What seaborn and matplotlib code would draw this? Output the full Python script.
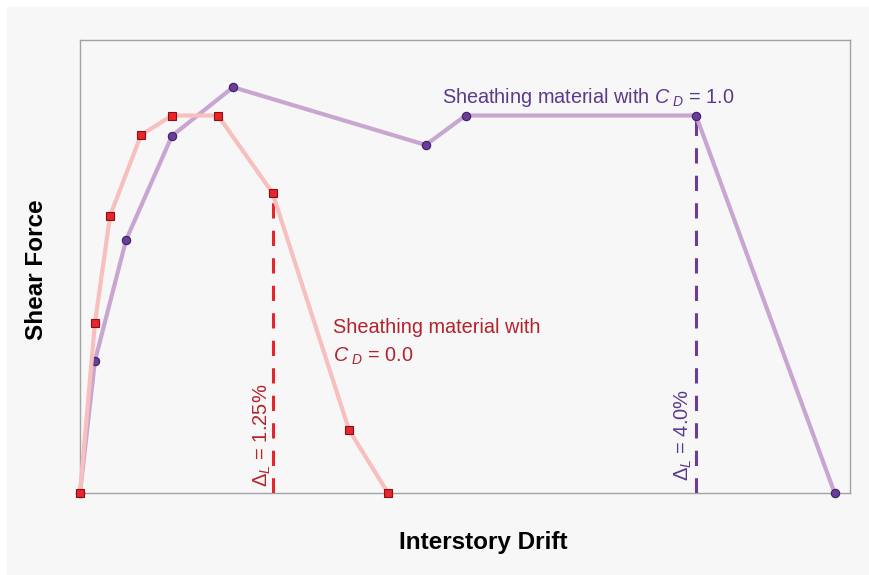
import matplotlib
matplotlib.use("Agg")
import matplotlib.pyplot as plt
from matplotlib.patches import Rectangle
import seaborn as sns
import pandas as pd

# ---- data (drift in %, shear force normalised to plateau = 1.0) ----
drift_cd0 = [0.0, 0.097, 0.195, 0.396, 0.597, 0.896, 1.25, 1.747, 2.0]
force_cd0 = [0.0, 0.450, 0.734, 0.948, 1.0, 1.0, 0.795, 0.167, 0.0]

drift_cd1 = [0.0, 0.097, 0.299, 0.597, 0.994, 2.245, 2.504, 4.0, 4.90]
force_cd1 = [0.0, 0.350, 0.670, 0.946, 1.075, 0.922, 1.0, 1.0, 0.0]

limit_cd0 = 1.25
limit_cd1 = 4.0
limit_force_cd0 = 0.795
limit_force_cd1 = 1.0

label_cd0_line1 = "Sheathing material with"
label_cd0_line2 = r"$C_{\ D}$ = 0.0"
label_cd1 = r"Sheathing material with $C_{\ D}$ = 1.0"
limit_label_cd0 = r"$\Delta_L$ = 1.25%"
limit_label_cd1 = r"$\Delta_L$ = 4.0%"
x_title = "Interstory Drift"
y_title = "Shear Force"

# ---- style ----
sns.set_theme(style="white")
plt.rcParams["font.family"] = ["Liberation Sans", "DejaVu Sans"]
plt.rcParams["mathtext.fontset"] = "custom"
plt.rcParams["mathtext.rm"] = "Liberation Sans"
plt.rcParams["mathtext.it"] = "Liberation Sans:italic"
plt.rcParams["mathtext.bf"] = "Liberation Sans:bold"

BG = "#f7f7f7"
RED_LINE = "#f8bfbf"
RED_MARK = "#e8252a"
RED_EDGE = "#8a1016"
RED_TEXT = "#b3232d"
RED_DASH = "#e3262c"
PUR_LINE = "#c9a6d2"
PUR_MARK = "#6a3d9a"
PUR_EDGE = "#3d1f66"
PUR_TEXT = "#5b3a8b"
PUR_DASH = "#6a3d9a"

fig = plt.figure(figsize=(8.7, 5.75), dpi=100)
fig.patch.set_facecolor(BG)
# thin white strips along top and left edges
fig.patches.append(Rectangle((0, 1 - 7 / 575), 1, 7 / 575, transform=fig.transFigure,
                             facecolor="white", edgecolor="none", zorder=-10))
fig.patches.append(Rectangle((0, 0), 7 / 870, 1, transform=fig.transFigure,
                             facecolor="white", edgecolor="none", zorder=-10))
ax = fig.add_axes([80 / 870, (575 - 493) / 575, 770 / 870, 453 / 575])
ax.set_facecolor(BG)

df0 = pd.DataFrame({"drift": drift_cd0, "force": force_cd0})
df1 = pd.DataFrame({"drift": drift_cd1, "force": force_cd1})

# dashed limit lines
ax.plot([limit_cd0, limit_cd0], [0, limit_force_cd0], color=RED_DASH, lw=2.2,
        dashes=(5, 4), zorder=2)
ax.plot([limit_cd1, limit_cd1], [0, limit_force_cd1], color=PUR_DASH, lw=2.2,
        dashes=(5, 4), zorder=2)

# purple series
sns.lineplot(data=df1, x="drift", y="force", ax=ax, sort=False, color=PUR_LINE,
             lw=3, marker="o", markersize=6, markerfacecolor=PUR_MARK,
             markeredgecolor=PUR_EDGE, markeredgewidth=0.8, zorder=3, clip_on=False)
# red series
sns.lineplot(data=df0, x="drift", y="force", ax=ax, sort=False, color=RED_LINE,
             lw=3, marker="s", markersize=6, markerfacecolor=RED_MARK,
             markeredgecolor=RED_EDGE, markeredgewidth=0.8, zorder=4, clip_on=False)

ax.set_xlim(0, 5.0)
ax.set_ylim(0, 1.2)
ax.set_xticks([])
ax.set_yticks([])
for s in ax.spines.values():
    s.set_visible(True)
    s.set_color("#a3a3a3")
    s.set_linewidth(1.0)
    s.set_zorder(1)

# annotations
ax.text(2.351, 1.033, label_cd1, color=PUR_TEXT, fontsize=14.3, ha="left", va="baseline")
ax.text(1.643, 0.424, label_cd0_line1, color=RED_TEXT, fontsize=14.3, ha="left", va="baseline")
ax.text(1.643, 0.347, label_cd0_line2, color=RED_TEXT, fontsize=14.3, ha="left", va="baseline")
ax.text(limit_cd0 - 0.068, 0.154, limit_label_cd0, color=RED_TEXT, fontsize=14.5,
        rotation=90, ha="center", va="center")
ax.text(limit_cd1 - 0.085, 0.154, limit_label_cd1, color=PUR_TEXT, fontsize=14.5,
        rotation=90, ha="center", va="center")

ax.set_xlabel(x_title, fontsize=17.5, fontweight="bold", color="black")
ax.xaxis.label.set_va("center")
ax.xaxis.set_label_coords((483 - 80) / 770, (493 - 543) / 453)
ax.set_ylabel(y_title, fontsize=17.5, fontweight="bold", color="black")
ax.yaxis.label.set_va("center")
ax.yaxis.set_label_coords((37 - 80) / 770, (493 - 270) / 453)

fig.savefig("out.png", dpi=100, facecolor=fig.get_facecolor())
